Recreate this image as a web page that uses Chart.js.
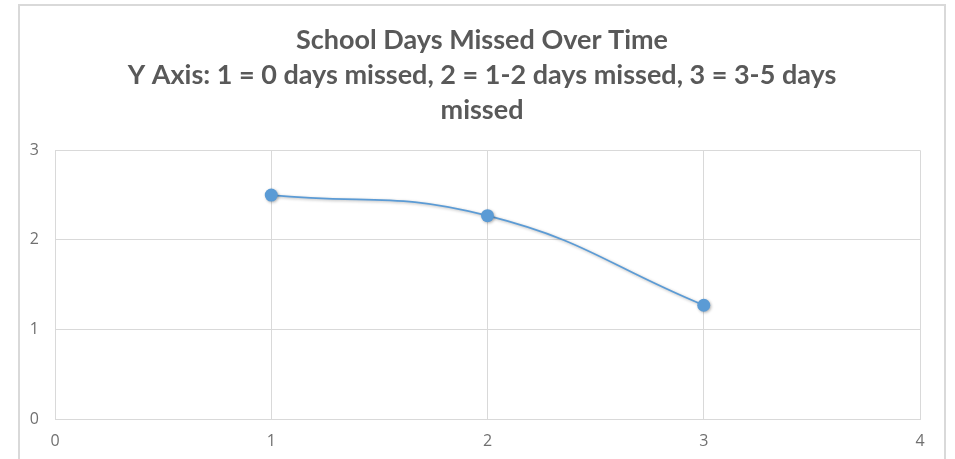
<!DOCTYPE html>
<html>
<head>
<meta charset="utf-8">
<script src="https://cdn.jsdelivr.net/npm/chart.js@4/dist/chart.umd.min.js"></script>
<style>
  html, body { margin: 0; padding: 0; background: #ffffff; }
  #wrap { position: relative; width: 955px; height: 459px; }
</style>
</head>
<body>
<div id="wrap"><canvas id="c" width="955" height="459"></canvas></div>
<script>
const titleLines = ["School Days Missed Over Time", "Y Axis: 1 = 0 days missed, 2 = 1-2 days missed, 3 = 3-5 days", "missed"];
const xValues = [1, 2, 3];
const yValues = [2.5, 2.27, 1.27];
const xTicks = [0, 1, 2, 3, 4];
const yTicks = [0, 1, 2, 3];

const points = xValues.map((x, i) => ({ x: x, y: yValues[i] }));

const frame = {
  id: 'frame',
  beforeDraw(chart) {
    const ctx = chart.ctx;
    ctx.save();
    ctx.fillStyle = '#ffffff';
    ctx.fillRect(0, 0, chart.width, chart.height);
    ctx.strokeStyle = '#d9d9d9';
    ctx.lineWidth = 2;
    ctx.strokeRect(19, 5, 926, 480);
    ctx.restore();
  },
  beforeDatasetsDraw(chart) {
    const ctx = chart.ctx;
    ctx.save();
    ctx.shadowColor = 'rgba(0,0,0,0.3)';
    ctx.shadowBlur = 3;
    ctx.shadowOffsetX = 1;
    ctx.shadowOffsetY = 1;
  },
  afterDatasetsDraw(chart) {
    chart.ctx.restore();
  }
};

new Chart(document.getElementById('c'), {
  type: 'scatter',
  data: {
    datasets: [{
      data: points,
      showLine: true,
      borderColor: '#5b9bd5',
      backgroundColor: '#5b9bd5',
      borderWidth: 1.75,
      pointRadius: 6.5,
      pointHoverRadius: 6.5,
      pointBorderWidth: 0,
      tension: 0.45,
      fill: false
    }]
  },
  options: {
    responsive: false,
    animation: false,
    events: [],
    layout: { padding: { left: 9, right: 0, top: 0, bottom: 0 } },
    plugins: {
      legend: { display: false },
      tooltip: { enabled: false },
      title: {
        display: true,
        text: titleLines,
        color: '#595959',
        font: { family: 'Lato', size: 27, weight: 'bold', lineHeight: 1.3 },
        padding: { top: 23, bottom: 22 }
      }
    },
    scales: {
      x: {
        type: 'linear',
        min: xTicks[0],
        max: xTicks[xTicks.length - 1],
        afterBuildTicks(axis) { axis.ticks = xTicks.map(v => ({ value: v })); },
        afterFit(axis) { axis.height = 40; },
        grid: { color: '#d9d9d9', lineWidth: 1, drawTicks: false },
        border: { color: '#d9d9d9', width: 1 },
        ticks: { color: '#707070', font: { family: 'Open Sans', size: 16 }, padding: 13 }
      },
      y: {
        type: 'linear',
        min: yTicks[0],
        max: yTicks[yTicks.length - 1],
        afterBuildTicks(axis) { axis.ticks = yTicks.map(v => ({ value: v })); },
        afterFit(axis) { axis.width = 46; },
        grid: { color: '#d9d9d9', lineWidth: 1, drawTicks: false },
        border: { display: false },
        ticks: { color: '#707070', font: { family: 'Open Sans', size: 16 }, padding: 16 }
      },
      spacer: {
        type: 'linear',
        position: 'right',
        display: true,
        afterFit(axis) { axis.width = 35; },
        grid: { display: false, drawTicks: false },
        border: { display: false },
        ticks: { display: false }
      }
    }
  },
  plugins: [frame]
});
</script>
</body>
</html>
